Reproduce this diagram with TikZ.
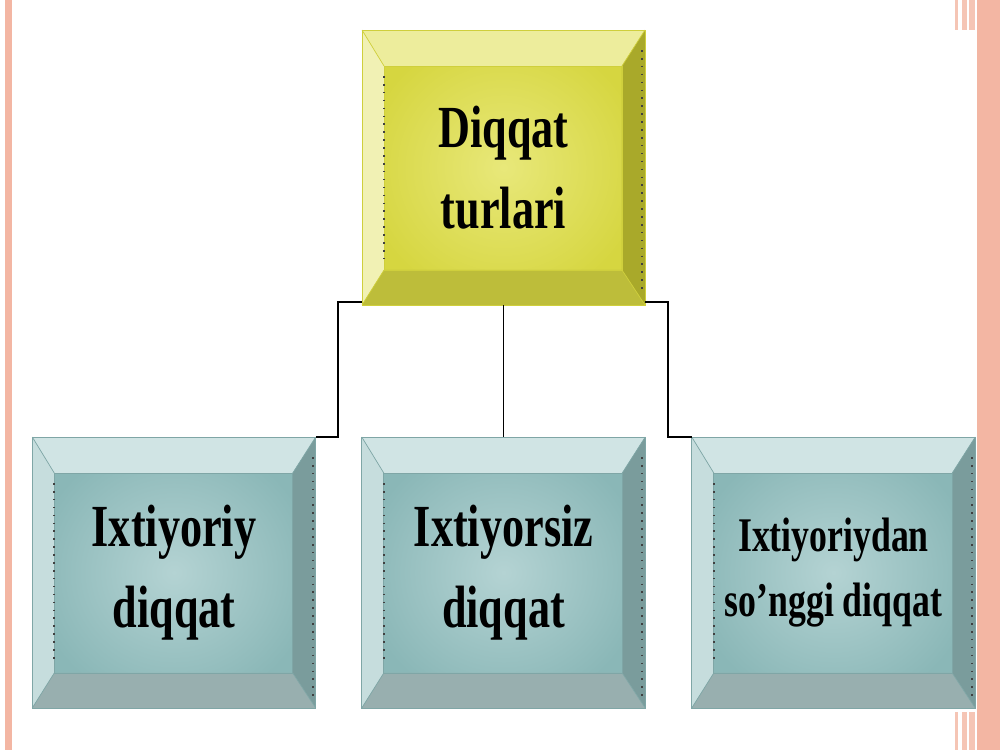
\documentclass[tikz,border=0pt]{standalone}
\usepackage{fontspec}
\setmainfont{Liberation Serif}
\newfontfamily\boxfont[FakeStretch=0.74]{Liberation Serif}
\usepackage{tikz}
\usetikzlibrary{calc,positioning}

\definecolor{slide}{HTML}{F3B6A3}
\definecolor{yelface}{HTML}{D6D640}
\definecolor{yelmid}{HTML}{E8E87A}
\definecolor{yeltop}{HTML}{EDED9C}
\definecolor{yelleft}{HTML}{F1F1B4}
\definecolor{yelright}{HTML}{A9A92A}
\definecolor{yelbot}{HTML}{BDBD3A}
\definecolor{yelline}{HTML}{CFCF3C}
\definecolor{tealface}{HTML}{8AB7B7}
\definecolor{tealmid}{HTML}{B4D3D3}
\definecolor{tealtop}{HTML}{D0E4E4}
\definecolor{tealleft}{HTML}{C6DDDD}
\definecolor{tealright}{HTML}{7A9C9C}
\definecolor{tealbot}{HTML}{98AFAF}
\definecolor{tealline}{HTML}{7FA6A6}

% bevel round a box node: #1 node, #2 colour prefix
\newcommand{\bevel}[2]{%
  \fill[#2top] (#1.north west) -- (#1.north east) -- ++(-23,36) -- ($(#1.north west)+(22,36)$) -- cycle;
  \fill[#2left] (#1.north west) -- ++(22,36) -- ($(#1.south west)+(22,-35)$) -- (#1.south west) -- cycle;
  \fill[#2right] (#1.north east) -- ++(-23,36) -- ($(#1.south east)+(-23,-35)$) -- (#1.south east) -- cycle;
  \fill[#2bot] (#1.south west) -- ++(22,-35) -- ($(#1.south east)+(-23,-35)$) -- (#1.south east) -- cycle;
  \draw[#2line,thin] (#1.north west) rectangle (#1.south east);
  \draw[#2line,thin] ($(#1.north west)+(22,36)$) rectangle ($(#1.south east)+(-23,-35)$);
  \draw[#2line,thin] (#1.north west) -- ++(22,36) (#1.north east) -- ++(-23,36)
    (#1.south west) -- ++(22,-35) (#1.south east) -- ++(-23,-35);
  \draw[dotrow] ($(#1.north west)+(22,46)$) -- ($(#1.south west)+(22,-45)$);
  \draw[dotrow] ($(#1.north east)+(-3,20)$) -- ($(#1.south east)+(-3,-10)$);
}

\begin{document}
\begin{tikzpicture}[x=0.02cm,y=-0.02cm,
  box/.style={rectangle,inner sep=0pt,outer sep=0pt,align=center},
  big/.style={font=\boxfont\bfseries\fontsize{34}{46}\selectfont},
  small/.style={font=\boxfont\bfseries\fontsize{27.5}{37}\selectfont},
  topbox/.style={box,inner color=yelmid,outer color=yelface,
    minimum width=5.66cm,minimum height=5.5cm},
  kindbox/.style={box,inner color=tealmid,outer color=tealface,
    minimum width=5.67cm,minimum height=5.42cm},
  dotrow/.style={black!75,line width=1.1pt,dash pattern=on 0.9pt off 3.6pt},
  link/.style={black,line width=1.1pt}]

    \useasboundingbox (0,0) rectangle (1000,750);
    \fill[white] (0,0) rectangle (1000,750);

    % slide edges
    \fill[slide] (5,0) rectangle (12,750);
    \fill[slide] (977,0) rectangle (1000,750);
    \foreach \a/\b in {955/958,962/967,969/975}{
      \fill[slide!80] (\a,0) rectangle (\b,30);
      \fill[slide!80] (\a,712) rectangle (\b,750);
    }

    % The boxes
    \node [topbox,big] at (503.5,167.5) (top) {Diqqat\\turlari};
    \node [kindbox,big] at (174,572.5) (vol) {Ixtiyoriy\\diqqat};
    \node [kindbox,big] at (503.5,572.5) (invol) {Ixtiyorsiz\\diqqat};
    \node [kindbox,small] at (833.5,572.5) (post) {Ixtiyoriydan\\so’nggi diqqat};

    \bevel{top}{yel}
    \bevel{vol}{teal}
    \bevel{invol}{teal}
    \bevel{post}{teal}

    % Connectors
    \draw[link] ($(top.south west)+(0,-3)$) -- ++(-24,0) |- (vol.north east);
    \draw[link] (top.south) -- (invol.north);
    \draw[link] ($(top.south east)+(0,-3)$) -- ++(23,0) |- (post.north west);

\end{tikzpicture}
\end{document}
